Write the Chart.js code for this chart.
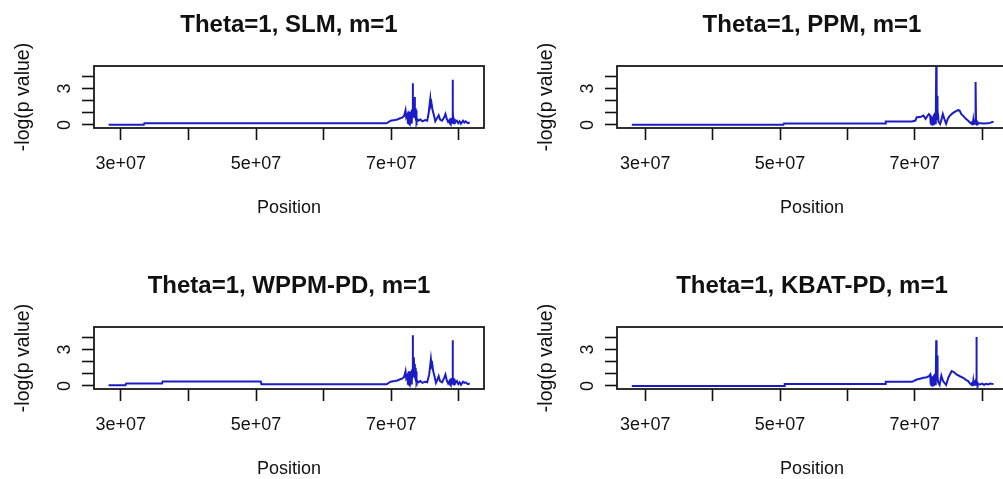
<!DOCTYPE html>
<html><head><meta charset="utf-8">
<script src="https://cdn.jsdelivr.net/npm/chart.js@4/dist/chart.umd.min.js"></script>
<style>
html,body{margin:0;padding:0;background:#fff;}
#wrap{position:relative;width:1003px;height:479px;overflow:hidden;background:#fff;}
.cell{position:absolute;width:523px;height:261px;}
canvas{display:block;}
</style></head><body>
<div id="wrap">
<div class="cell" style="left:0;top:0"><canvas id="c1" width="523" height="261"></canvas></div>
<div class="cell" style="left:523px;top:0"><canvas id="c2" width="523" height="261"></canvas></div>
<div class="cell" style="left:0;top:261px"><canvas id="c3" width="523" height="261"></canvas></div>
<div class="cell" style="left:523px;top:261px"><canvas id="c4" width="523" height="261"></canvas></div>
</div>
<script>
// ---- texts ----
const panelTitles = ['Theta=1, SLM, m=1', 'Theta=1, PPM, m=1', 'Theta=1, WPPM-PD, m=1', 'Theta=1, KBAT-PD, m=1'];
const xAxisTitle = 'Position';
const yAxisTitle = '-log(p value)';
const xTickValues = [3e7, 4e7, 5e7, 6e7, 7e7, 8e7];
const xTickLabels = ['3e+07', '', '5e+07', '', '7e+07', ''];
const yTickValues = [0, 1, 2, 3, 4];
const yTickLabels = ['0', '', '', '3', ''];

// ---- panel 1: SLM ----
const slmX = [2.82e7,3.34e7,3.35e7,6.93e7,6.99e7,7.05e7,7.09e7,7.13e7,7.16e7,7.19e7,7.21e7,7.22e7,7.24e7,
  7.245e7,7.25e7,7.255e7,7.26e7,7.265e7,7.27e7,7.275e7,7.28e7,7.285e7,7.29e7,7.295e7,7.30e7,7.305e7,7.31e7,7.317e7,7.32e7,7.325e7,7.33e7,7.335e7,7.34e7,7.346e7,7.35e7,7.355e7,7.36e7,7.365e7,7.37e7,7.375e7,7.38e7,
  7.40e7,7.43e7,7.46e7,7.50e7,7.53e7,7.55e7,7.576e7,7.585e7,7.595e7,7.61e7,7.63e7,7.65e7,7.67e7,7.70e7,7.72e7,7.75e7,7.78e7,7.80e7,7.82e7,7.84e7,7.86e7,
  7.87e7,7.875e7,7.88e7,7.885e7,7.89e7,7.895e7,7.90e7,7.907e7,7.91e7,7.915e7,7.92e7,7.925e7,7.93e7,7.935e7,7.94e7,
  7.97e7,7.99e7,8.01e7,8.03e7,8.06e7,8.08e7,8.10e7,8.13e7,8.16e7];
const slmY = [0.02,0.02,0.14,0.14,0.35,0.40,0.45,0.55,0.60,0.75,1.20,0.65,0.90,
  0.10,1.00,0.05,1.10,0.10,0.90,0.05,1.00,0.10,1.10,0.20,1.20,0.30,1.30,3.44,0.90,1.50,0.60,1.60,1.00,2.30,1.40,0.60,1.40,0.40,1.20,0.30,0.50,
  0.35,0.45,0.30,0.40,0.35,0.90,2.15,1.60,1.75,1.20,0.80,0.30,0.50,0.80,0.45,0.35,0.60,0.90,0.50,0.25,0.40,
  0.10,0.50,0.05,0.55,0.10,0.60,0.20,3.72,0.30,0.60,0.10,0.55,0.15,0.50,0.20,
  0.35,0.15,0.30,0.10,0.35,0.20,0.30,0.15,0.20];

// ---- panel 2: PPM ----
const ppmX = [2.80e7,5.05e7,5.06e7,6.56e7,6.57e7,6.96e7,7.01e7,7.03e7,7.08e7,7.13e7,7.16e7,7.21e7,7.23e7,
  7.235e7,7.24e7,7.245e7,7.25e7,7.255e7,7.26e7,7.265e7,7.27e7,7.275e7,7.28e7,7.285e7,7.29e7,7.295e7,7.30e7,7.305e7,7.31e7,7.315e7,7.319e7,7.323e7,7.327e7,7.331e7,7.335e7,7.338e7,7.342e7,7.346e7,7.35e7,
  7.377e7,7.40e7,7.417e7,7.44e7,7.466e7,7.49e7,7.52e7,7.56e7,7.60e7,7.647e7,7.67e7,7.69e7,7.72e7,7.76e7,7.794e7,7.82e7,7.843e7,
  7.85e7,7.855e7,7.86e7,7.865e7,7.87e7,7.875e7,7.88e7,7.885e7,7.89e7,7.895e7,7.90e7,7.907e7,7.91e7,7.915e7,7.92e7,7.925e7,7.93e7,7.935e7,7.94e7,
  7.98e7,8.03e7,8.08e7,8.11e7,8.15e7,8.17e7];
const ppmY = [0.02,0.02,0.12,0.12,0.28,0.28,0.36,0.63,0.65,0.77,0.50,0.90,0.77,
  0.10,0.40,0.08,0.50,0.05,0.60,0.08,0.70,0.05,0.80,0.10,0.90,0.10,1.00,0.15,1.10,0.30,4.78,0.40,1.60,0.50,2.00,2.40,1.20,0.80,0.30,
  0.08,0.50,0.90,0.50,0.10,0.50,0.75,0.95,1.10,1.24,1.15,0.90,0.75,0.50,0.35,0.20,0.10,
  0.30,0.05,0.35,0.05,0.40,0.05,0.40,0.10,0.45,0.10,0.50,3.53,0.40,0.10,0.35,0.05,0.30,0.10,0.15,
  0.14,0.12,0.14,0.15,0.25,0.25];

// ---- panel 3: WPPM-PD ----
const wppmX = [2.82e7,3.07e7,3.08e7,3.61e7,3.62e7,5.07e7,5.08e7,6.93e7,6.99e7,7.05e7,7.09e7,7.13e7,7.16e7,7.19e7,7.21e7,7.22e7,7.24e7,
  7.245e7,7.25e7,7.255e7,7.26e7,7.265e7,7.27e7,7.275e7,7.28e7,7.285e7,7.29e7,7.295e7,7.30e7,7.305e7,7.31e7,7.317e7,7.32e7,7.325e7,7.33e7,7.335e7,7.34e7,7.346e7,7.35e7,7.355e7,7.36e7,7.365e7,7.37e7,7.375e7,7.38e7,
  7.40e7,7.43e7,7.46e7,7.50e7,7.53e7,7.56e7,7.585e7,7.595e7,7.605e7,7.62e7,7.64e7,7.66e7,7.68e7,7.70e7,7.72e7,7.75e7,7.78e7,7.80e7,7.82e7,7.84e7,7.86e7,
  7.87e7,7.875e7,7.88e7,7.885e7,7.89e7,7.895e7,7.90e7,7.907e7,7.91e7,7.915e7,7.92e7,7.925e7,7.93e7,7.935e7,7.94e7,
  7.97e7,7.99e7,8.01e7,8.03e7,8.06e7,8.08e7,8.10e7,8.13e7,8.16e7];
const wppmY = [0.05,0.05,0.20,0.20,0.36,0.36,0.14,0.14,0.35,0.40,0.45,0.55,0.60,0.75,1.20,0.65,0.90,
  0.10,1.10,0.05,1.20,0.10,1.00,0.05,1.10,0.10,1.20,0.20,1.30,0.30,1.40,4.17,1.00,1.60,0.70,2.35,1.10,1.80,1.40,0.60,1.50,0.40,1.20,0.30,0.45,
  0.30,0.40,0.25,0.35,0.30,0.95,2.20,1.65,1.80,1.20,0.75,0.25,0.50,0.80,0.40,0.30,0.65,0.95,0.45,0.20,0.40,
  0.10,0.55,0.05,0.60,0.10,0.65,0.20,3.75,0.30,0.65,0.10,0.60,0.15,0.55,0.20,
  0.40,0.15,0.30,0.10,0.35,0.25,0.30,0.15,0.20];

// ---- panel 4: KBAT-PD ----
const kbatX = [2.80e7,5.06e7,5.07e7,6.56e7,6.57e7,6.96e7,7.03e7,7.08e7,7.13e7,7.18e7,7.21e7,7.23e7,
  7.235e7,7.24e7,7.245e7,7.25e7,7.255e7,7.26e7,7.265e7,7.27e7,7.275e7,7.28e7,7.285e7,7.29e7,7.295e7,7.30e7,7.305e7,7.31e7,7.315e7,7.319e7,7.323e7,7.327e7,7.331e7,7.335e7,7.339e7,7.343e7,7.347e7,
  7.37e7,7.395e7,7.42e7,7.466e7,7.50e7,7.549e7,7.58e7,7.62e7,7.67e7,7.72e7,7.76e7,7.794e7,7.82e7,7.843e7,
  7.85e7,7.855e7,7.86e7,7.865e7,7.87e7,7.875e7,7.88e7,7.885e7,7.89e7,7.895e7,7.90e7,7.905e7,7.91e7,7.917e7,7.92e7,7.925e7,7.93e7,7.935e7,7.94e7,
  7.97e7,8.00e7,8.03e7,8.06e7,8.09e7,8.12e7,8.17e7];
const kbatY = [0.0,0.0,0.17,0.17,0.34,0.34,0.53,0.60,0.67,0.72,0.80,0.95,
  0.10,0.50,0.08,0.60,0.05,0.70,0.08,0.80,0.05,0.85,0.10,0.90,0.10,1.00,0.15,1.05,0.30,3.75,0.40,1.50,0.50,2.50,1.30,0.80,0.30,
  0.08,0.85,0.40,0.08,0.70,1.23,1.15,0.95,0.80,0.67,0.50,0.40,0.20,0.10,
  0.30,0.05,0.35,0.05,0.40,0.05,0.40,0.10,0.45,0.10,0.50,0.15,0.45,4.03,0.40,0.10,0.35,0.05,0.15,
  0.12,0.20,0.10,0.18,0.12,0.20,0.15];

const FONT = '"Liberation Sans", Arial, sans-serif';
const INK = '#111';

const decor = {
  id: 'decor',
  afterDraw(chart) {
    const {ctx, chartArea: a} = chart;
    ctx.save();
    // plot frame
    ctx.strokeStyle = '#1a1a1a';
    ctx.lineWidth = 1.8;
    ctx.strokeRect(a.left, a.top, a.right - a.left, a.bottom - a.top);
    // panel title centred over the plot region
    ctx.fillStyle = INK;
    ctx.font = 'bold 24px ' + FONT;
    ctx.textAlign = 'center';
    ctx.textBaseline = 'middle';
    ctx.fillText(chart.options.panelTitle, (a.left + a.right) / 2, 25);
    // y tick labels, rotated as in the original
    const ys = chart.scales.y;
    ctx.font = '18px ' + FONT;
    yTickValues.forEach((v, i) => {
      if (!yTickLabels[i]) return;
      const py = ys.getPixelForValue(v);
      ctx.save();
      ctx.translate(65, py);
      ctx.rotate(-Math.PI / 2);
      ctx.fillText(yTickLabels[i], 0, 0);
      ctx.restore();
    });
    ctx.restore();
  }
};

function makePanel(id, title, xs, ys, xMin) {
  return new Chart(document.getElementById(id), {
    type: 'line',
    data: { datasets: [{
      data: xs.map((x, i) => ({ x: x, y: ys[i] })),
      borderColor: '#1c1cc4', borderWidth: 2, pointRadius: 0, tension: 0, fill: false
    }] },
    options: {
      panelTitle: title,
      responsive: false, animation: false, devicePixelRatio: 1,
      layout: { padding: { left: 0, right: 39, top: 66, bottom: 0 } },
      plugins: { legend: { display: false }, tooltip: { enabled: false }, title: { display: false } },
      scales: {
        x: {
          type: 'linear', position: 'bottom', min: xMin, max: 8.37e7,
          afterBuildTicks: s => { s.ticks = xTickValues.map(v => ({ value: v })); },
          afterFit: s => { s.height = 133; },
          grid: { drawOnChartArea: false, drawTicks: true, tickLength: 12, tickColor: INK, tickWidth: 1.6 },
          border: { display: false },
          ticks: { autoSkip: false, maxRotation: 0, minRotation: 0, padding: 13, color: INK,
            font: { family: FONT, size: 18 },
            callback: v => { const i = xTickValues.indexOf(v); return i >= 0 ? xTickLabels[i] : ''; } },
          title: { display: true, text: xAxisTitle, color: INK, font: { family: FONT, size: 18 },
            padding: { top: 0, bottom: 42 } }
        },
        y: {
          type: 'linear', position: 'left', min: -0.25, max: 4.85,
          afterBuildTicks: s => { s.ticks = yTickValues.map(v => ({ value: v })); },
          afterFit: s => { s.width = 94; },
          grid: { drawOnChartArea: false, drawTicks: true, tickLength: 12, tickColor: INK, tickWidth: 1.6 },
          border: { display: false },
          ticks: { display: false },
          title: { display: true, text: yAxisTitle, color: INK, font: { family: FONT, size: 19.5 },
            padding: { top: 12, bottom: 0 } }
        }
      }
    },
    plugins: [decor]
  });
}

makePanel('c1', panelTitles[0], slmX, slmY, 2.605e7);
makePanel('c2', panelTitles[1], ppmX, ppmY, 2.58e7);
makePanel('c3', panelTitles[2], wppmX, wppmY, 2.605e7);
makePanel('c4', panelTitles[3], kbatX, kbatY, 2.58e7);
</script>
</body></html>
